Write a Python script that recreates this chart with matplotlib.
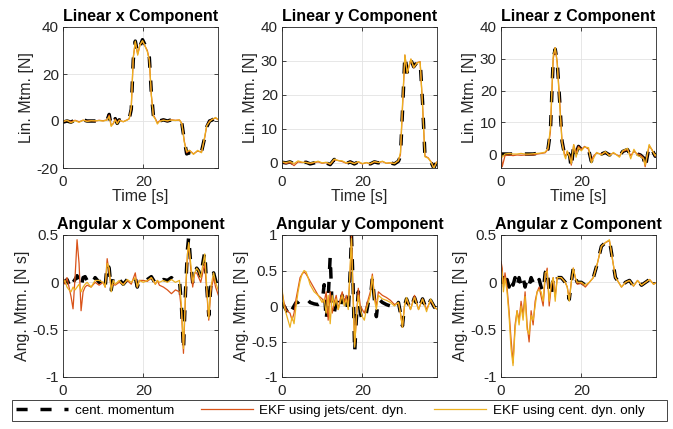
import numpy as np
import matplotlib
matplotlib.use('Agg')
from matplotlib import pyplot as plt
from matplotlib.patches import Rectangle
from matplotlib.ticker import FuncFormatter

plt.rcParams['font.family'] = ['Liberation Sans', 'DejaVu Sans']
plt.rcParams['axes.unicode_minus'] = False

# ---- linear x ----
t_lx = [0, 1, 2, 3, 4, 5, 6, 7, 8, 9, 10, 11,
        11.5, 12, 12.5, 13, 13.5, 14, 15, 16, 16.5, 17,
        17.5, 18, 18.6, 19.2, 19.8, 20.4, 21, 21.5, 22, 22.5,
        23, 23.5, 24, 25, 26, 27, 28, 29, 29.6, 30.2,
        30.8, 31.5, 32.5, 33.5, 34.5, 35.3, 35.8, 36.5, 37, 38, 38.8]
cent_lx = [-0.5, 0, -0.5, 0.5, -0.5, 0.5, 0, 0, 0, 0.3, 0, 0.5,
           2.8, -2, -1.5, 1, -1, 0.5, -0.5, 0.5, 1, 5,
           26, 34, 29, 32, 34.6, 32.5, 30, 27, 12, 2.5,
           1, -1, 0, 0.5, 0, 0.5, 0.3, 0.5, -1, -8,
           -14, -13.5, -14, -13, -13, -7, -2.5, 0, 0.3, 1.3, 0.4]
jets_lx = [-0.3, 0.2, -0.3, 0.3, -0.3, 0.3, 0, 0.2, 0, 0.3, 0.1, 0.5,
           2.5, -1.8, -1.2, 0.8, -0.8, 0.4, -0.3, 0.5, 1, 5.5,
           27, 33.5, 28.5, 32.5, 34, 32, 30, 26, 11, 2.5,
           1, -0.8, 0, 0.4, 0, 0.5, 0.3, 0.4, -1, -8.5,
           -13.5, -12.5, -14, -12.8, -13.2, -7, -2, 0, 0.5, 1.3, 0.4]
cdyn_lx = [-0.2, 0.3, -0.8, 0.2, -0.6, 0.4, -0.2, 0.1, 0.1, 0.2, 0, 0.4,
           2, -2.3, -1, 0.5, -1.2, 0.3, -0.3, 0.4, 1, 6,
           27, 34, 28, 32.5, 34.2, 32, 29.5, 26, 11, 2,
           0.8, -1.3, -0.2, 0.3, 0.1, 0.4, 0.2, 0.5, -1.2, -9,
           -13, -12.5, -14.2, -12.5, -13.5, -6.5, -2, -0.3, 0.5, 1.5, 0.3]

# ---- linear y ----
t_ly = [0, 1, 2, 3, 4, 5, 6, 7, 8, 9,
        10, 11, 12, 13, 14, 15, 16, 17, 18, 19,
        20, 21, 22, 23, 24, 25, 26, 27, 28, 29,
        29.5, 30, 30.6, 31.2, 32.1, 32.8, 33.6, 34.4, 35, 35.6,
        36.4, 37.2, 37.8, 38.4, 38.8]
cent_ly = [0.2, 0, 0.3, -0.3, 0.4, 0, 0.2, -0.3, 0, 0.4,
           -0.2, 0, -0.5, 1, 0.8, 0.5, -0.2, 0.3, -0.3, 0.3,
           -0.4, 0, -0.3, 0.3, 0, 0.4, -0.2, 0, -0.3, 0.5,
           2, 15, 31.5, 26.7, 30.3, 28.3, 29.6, 29.9, 18, 2,
           1.5, 0, -1.5, 0, 0.3]
jets_ly = [0.3, -0.2, 0.1, -0.8, 0.3, 0.1, 0.2, -0.2, 0.1, 0.3,
           -0.1, 0.1, -0.4, 0.9, 0.7, 0.4, -0.1, 0.3, -0.2, 0.3,
           -0.3, 0.1, -0.3, 0.3, 0.1, 0.4, -0.1, 0, -0.2, 0.6,
           2.5, 16, 31.7, 26.5, 30.5, 28, 29.5, 29.8, 17, 2,
           1.5, 0.2, -1.5, 0.1, 0.5]
cdyn_ly = [0.3, 0.1, 0.4, -0.2, 0.6, 0.2, 0.1, -0.1, 0.2, 0.5,
           0, 0.2, -0.3, 1.1, 0.7, 0.6, 0, 0.2, -0.2, 0.4,
           -0.2, 0.1, -0.2, 0.4, 0.1, 0.5, -0.1, 0.1, -0.2, 0.7,
           3, 17, 31.8, 26.4, 30.6, 28.1, 29.4, 29.7, 17, 1.8,
           1.4, 0.1, -1.6, 0, 0.4]

# ---- linear z ----
t_lz = [0, 0.3, 1, 2, 3, 4, 5, 6, 7, 8, 9, 10, 11,
        11.7, 12.3, 13, 13.5, 14, 14.6, 15.2,
        15.8, 16.1, 16.5, 17.1, 17.5, 18.1, 18.7, 19.3, 20, 20.8,
        21.8, 22.5, 23, 23.8, 25, 26, 27, 28, 29.5, 30.3,
        31.5, 32.3, 33.1, 34, 34.7, 35.5, 35.9, 36.9, 37.6, 38.4, 38.8]
cent_lz = [0, 0, 0, 0, 0, -0.2, 0, 0, 0, 0, 0.2, 0.3, 0.5,
           1.5, 7, 30, 33, 29, 17, 4,
           0, -0.7, 0.8, -0.5, -4.5, 2.9, 0.3, 2.4, 1.4, 2.4,
           1.5, -2.3, -0.7, 0.3, 0, 0.5, -0.3, 0.3, -0.7, 0.8,
           1.4, -0.5, 0.8, 0, -0.3, -1.2, -4.5, 2.6, 1.4, -0.7, 0]
jets_lz = [0.5, -4, -0.5, -0.3, -0.5, -0.3, -0.4, -0.3, -0.2, -0.3, 0, 0.2, 0.4,
           1.5, 7, 30, 33.5, 29, 17, 4,
           0, -0.7, 0.8, -0.5, -3.5, 2.9, 0.3, 2.4, 1.4, 2.4,
           1.5, -2.3, -0.7, 0.3, 0, 0.5, -0.3, 0.3, -0.7, 0.8,
           1.4, -0.5, 0.8, 0, -0.3, -1.2, -4, 2.6, 1.4, -0.7, 0]
cdyn_lz = [0.3, -1, 0, 0.2, 0, 0, 0.2, 0, 0, 0.1, 0.2, 0.3, 0.6,
           1.8, 8, 31, 33.5, 28.5, 16, 3.5,
           -0.5, -1.5, 1, -1, -3, 3, -1, 2, 1, 2.2,
           2, -2.8, -1.5, 0.5, -0.3, 0.8, -0.6, 0.5, -1, 1,
           1.8, -1.5, 1.5, -0.5, -0.8, -1.5, -3.5, 3, 1.2, -0.5, 0.2]

# ---- angular x ----
t_ax = [0, 0.5, 1, 1.5, 2, 2.5, 3, 3.5, 4, 4.5, 5, 5.5, 6,
        7, 8, 9, 10, 10.5, 11, 11.5, 12, 12.5, 13,
        14, 15, 16, 17, 18, 18.5, 19, 20, 21, 22,
        23, 23.5, 24, 25, 26, 27, 28, 29,
        29.5, 30, 30.5, 31, 31.3, 31.8, 32.3, 32.8, 33.3, 33.8,
        34.3, 34.8, 35.3, 35.8, 36.3, 36.8, 37.5, 38, 38.8]
cent_ax = [0.02, 0, 0.03, -0.02, 0.05, 0, 0.03, 0.07, 0.02, -0.05, 0.05, 0.06, 0.02,
           -0.03, 0.05, 0, 0.03, -0.05, 0.2, 0.15, -0.08, 0.05, 0,
           0.03, -0.02, 0.03, 0, 0.05, -0.05, 0.02, 0, 0.03, 0.06,
           -0.01, 0.03, 0.01, 0.03, 0.02, 0.05, 0.01, 0.03,
           -0.25, -0.72, -0.1, 0.35, 0.48, 0.2, 0, 0.1, 0.15, 0.12,
           0.05, 0.2, 0.32, -0.05, -0.35, -0.05, 0.1, 0.02, -0.1]
jets_ax = [0.05, -0.02, 0.05, -0.05, -0.15, -0.28, 0.05, 0.45, 0.2, -0.3, -0.1, -0.05, -0.03,
           -0.05, 0, -0.03, 0, -0.05, 0.25, 0.1, -0.05, -0.02, -0.03,
           0, -0.02, 0.02, -0.02, 0.1, -0.05, 0.02, 0.02, 0.01, 0.05,
           -0.02, 0.02, -0.03, -0.05, -0.08, -0.12, -0.08, -0.1,
           -0.3, -0.75, -0.15, 0.3, 0.4, 0.15, -0.05, 0.1, 0.1, 0.05,
           0, 0.1, 0.2, -0.1, -0.4, -0.1, 0.05, -0.05, -0.15]
cdyn_ax = [0, 0.02, -0.05, -0.08, -0.1, -0.05, -0.08, -0.05, -0.02, -0.1, -0.05, -0.02, 0,
           -0.05, 0.02, 0.02, 0, -0.05, 0.2, 0.15, -0.1, 0.02, -0.02,
           0.02, -0.03, 0.03, 0, 0.05, -0.05, 0.02, 0, 0.02, 0.05,
           -0.02, 0.02, 0, 0.02, 0, 0.03, 0, 0.02,
           -0.25, -0.7, -0.1, 0.3, 0.42, 0.2, 0, 0.1, 0.15, 0.12,
           0.05, 0.18, 0.3, -0.05, -0.38, -0.05, 0.1, 0, -0.1]

# ---- angular y ----
t_ay = [0, 0.5, 1, 1.5, 2, 2.5, 3, 3.5, 4, 4.5, 5, 5.5, 6, 6.5, 7,
        8, 9, 10, 10.5, 11, 11.5, 12, 12.5, 13, 13.5,
        14, 14.5, 15, 15.5, 16, 16.5, 17, 17.3, 17.7, 18.1,
        18.5, 19, 19.5, 20, 20.5, 21, 21.5, 22, 22.5, 23,
        23.5, 24, 25, 26, 27, 28, 29, 29.5, 30, 30.5,
        31, 32, 33, 34, 35, 36, 37, 38, 38.8]
cent_ay = [0.05, 0, -0.05, -0.1, -0.15, -0.05, 0, 0.05, 0.05, 0.08, 0.12, 0.12, 0.1, 0.08, 0.05,
           0.03, 0.02, 0.05, 0.3, -0.2, 0.1, 0.7, -0.05, -0.1, 0.05,
           0.05, -0.05, 0.15, 0, 0.1, -0.1, 0.5, 1.0, 0.3, -0.65,
           -0.2, 0.2, -0.1, -0.2, -0.2, -0.1, 0.05, 0.1, 0.4, 0.1,
           -0.15, 0.1, 0.05, 0.02, 0, -0.05, 0.05, -0.1, -0.28, 0,
           0.1, -0.05, 0.12, -0.05, 0.1, -0.05, 0.08, -0.02, -0.05]
jets_ay = [0.2, 0.05, -0.05, -0.08, -0.1, -0.2, -0.1, 0.1, 0.25, 0.4, 0.45, 0.48, 0.45, 0.4, 0.35,
           0.25, 0.15, 0.1, 0.05, 0.2, -0.2, 0.2, -0.1, 0.05, 0.15,
           -0.05, 0.1, 0.2, 0.05, 0.15, 0, 0.5, 1.0, 0.2, -0.55,
           -0.2, 0.25, 0, -0.05, -0.1, 0, 0.1, 0.2, 0.45, 0.15,
           0, 0.2, 0.15, 0.12, 0.08, 0.02, 0.05, -0.1, -0.3, 0,
           0.1, -0.05, 0.15, -0.05, 0.1, -0.05, 0.08, -0.02, -0.05]
cdyn_ay = [0.25, 0, -0.1, -0.2, -0.3, -0.15, -0.25, 0, 0.2, 0.35, 0.45, 0.5, 0.48, 0.4, 0.3,
           0.2, 0.15, 0.05, 0.1, -0.1, 0.15, -0.25, 0.15, 0, 0.1,
           -0.05, 0.05, 0.15, 0, 0.1, -0.05, 0.6, 0.95, 0.1, -0.58,
           -0.15, 0.15, -0.05, -0.15, -0.2, -0.05, 0.05, 0.15, 0.42, 0.1,
           -0.05, 0.15, 0.1, 0.08, 0.05, 0, 0.05, -0.1, -0.3, 0,
           0.12, -0.05, 0.12, -0.05, 0.1, -0.08, 0.1, -0.02, -0.05]

# ---- angular z ----
t_az = [0, 0.3, 0.6, 1, 1.5, 2, 2.5, 3, 3.5, 4,
        4.5, 5, 5.5, 6, 6.5, 7, 7.5, 8, 8.5, 9,
        9.5, 10, 10.5, 11, 11.5, 12, 12.5, 13, 13.5, 14,
        15, 16, 16.5, 17, 17.5, 18, 18.5, 19, 20, 21,
        22, 23, 24, 25, 26, 27, 28, 28.5, 29, 30,
        31, 32, 33, 34, 35, 36, 37, 38, 38.8]
cent_az = [0.02, 0, 0.05, -0.05, 0.03, -0.05, 0.05, -0.03, 0.05, -0.05,
           0.05, -0.03, 0.05, -0.05, 0.04, -0.03, 0.05, 0, 0.03, -0.02,
           0.03, -0.05, -0.1, 0.1, 0.15, -0.1, -0.15, 0.05, 0.1, 0.05,
           0.05, 0, -0.05, -0.18, 0, 0.15, 0.05, 0, 0, -0.03,
           0, 0.05, 0.2, 0.38, 0.42, 0.45, 0.18, 0.05, 0.02, -0.05,
           0, 0.02, -0.04, 0.02, -0.03, 0, 0.03, -0.02, 0]
jets_az = [0.22, 0.15, -0.05, 0.1, -0.05, -0.3, -0.6, -0.85, -0.45, -0.3,
           -0.4, -0.2, -0.35, -0.1, -0.45, -0.63, -0.3, -0.45, -0.2, -0.1,
           -0.05, -0.15, -0.25, 0.05, 0.15, -0.25, -0.05, 0.05, -0.15, 0.05,
           0.05, 0, -0.05, -0.18, 0, 0.15, 0.05, -0.02, -0.01, -0.05,
           0, 0.05, 0.2, 0.38, 0.42, 0.44, 0.18, 0.05, 0.02, -0.05,
           0, 0.02, -0.04, 0.02, -0.03, 0, 0.03, -0.02, 0]
cdyn_az = [0.15, 0.1, -0.1, 0.05, -0.1, -0.35, -0.7, -0.88, -0.5, -0.3,
           -0.45, -0.25, -0.4, -0.15, -0.5, -0.55, -0.35, -0.4, -0.25, -0.1,
           -0.08, -0.1, -0.2, 0.1, 0.12, -0.2, -0.02, 0.05, -0.2, 0.05,
           0.05, 0, -0.05, -0.2, 0, 0.15, 0.05, 0, 0, -0.03,
           0, 0.05, 0.2, 0.38, 0.42, 0.45, 0.18, 0.05, 0.02, -0.05,
           0, 0.02, -0.04, 0.02, -0.03, 0, 0.03, -0.02, 0]

legend_labels = ['cent. momentum', 'EKF using jets/cent. dyn.', 'EKF using cent. dyn. only']

panels = [
    (t_lx, cent_lx, jets_lx, cdyn_lx, 'Linear x Component', 'Lin. Mtm. [N]', (-20, 40), [-20, 0, 20, 40]),
    (t_ly, cent_ly, jets_ly, cdyn_ly, 'Linear y Component', 'Lin. Mtm. [N]', (-1.5, 40), [0, 10, 20, 30, 40]),
    (t_lz, cent_lz, jets_lz, cdyn_lz, 'Linear z Component', 'Lin. Mtm. [N]', (-4.4, 40), [0, 10, 20, 30, 40]),
    (t_ax, cent_ax, jets_ax, cdyn_ax, 'Angular x Component', 'Ang. Mtm. [N s]', (-1, 0.5), [-1, -0.5, 0, 0.5]),
    (t_ay, cent_ay, jets_ay, cdyn_ay, 'Angular y Component', 'Ang. Mtm. [N s]', (-1, 1), [-1, -0.5, 0, 0.5, 1]),
    (t_az, cent_az, jets_az, cdyn_az, 'Angular z Component', 'Ang. Mtm. [N s]', (-1, 0.5), [-1, -0.5, 0, 0.5]),
]

W, H = 673, 429
fig = plt.figure(figsize=(W / 100, H / 100), dpi=100)

lefts = [63, 282, 501]
rows = [(27, 168), (235, 377)]
dark = '#262626'
c_jets = '#D95319'
c_cdyn = '#EDB120'
fmt = FuncFormatter(lambda v, p: '%g' % v)

handles = None
for i, (t, cent, jets, cdyn, title, ylab, ylim, yt) in enumerate(panels):
    top, bot = rows[i // 3]
    l = lefts[i % 3]
    ax = fig.add_axes([l / W, (H - bot) / H, 155 / W, (bot - top) / H])
    h1, = ax.plot(t, cent, color='k', lw=2.5, dashes=(3.2, 3.7))
    h2, = ax.plot(t, jets, color=c_jets, lw=0.9)
    h3, = ax.plot(t, cdyn, color=c_cdyn, lw=0.9)
    if handles is None:
        handles = [h1, h2, h3]
    ax.set_xlim(0, 38.6)
    ax.set_ylim(*ylim)
    ax.set_xticks([0, 20])
    ax.set_yticks(yt)
    ax.yaxis.set_major_formatter(fmt)
    ax.grid(True, color='#e3e3e3', lw=0.6)
    ax.set_axisbelow(True)
    ax.tick_params(direction='in', length=3, top=True, right=True, labelsize=11,
                   colors=dark, width=0.6)
    ax.tick_params(axis='x', pad=5)
    ax.tick_params(axis='y', pad=3)
    for s in ax.spines.values():
        s.set_color(dark)
        s.set_linewidth(0.6)
    ax.set_title(title, fontweight='bold', fontsize=11.5, pad=4)
    ax.set_ylabel(ylab, fontsize=11.5, color=dark, labelpad=2)
    if i < 3:
        ax.set_xlabel('Time [s]', fontsize=11.5, color=dark, labelpad=0)

fig.legend(handles, legend_labels, loc='center left',
           bbox_to_anchor=(16 / W, 1 - 410.5 / H), ncol=3, frameon=False,
           fontsize=9.6, handlelength=3.9, handletextpad=0.5, columnspacing=2.0,
           borderpad=0, borderaxespad=0)
fig.patches.append(Rectangle((12 / W, (H - 421) / H), 655 / W, 21 / H,
                             transform=fig.transFigure, fill=False, ec=dark, lw=0.6))

fig.savefig('out.png', dpi=100)
